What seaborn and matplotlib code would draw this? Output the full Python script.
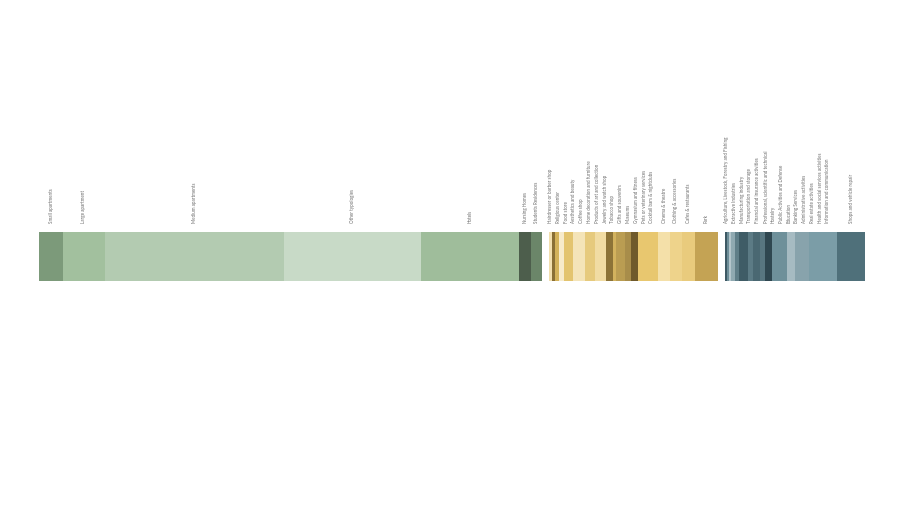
import numpy as np
import pandas as pd
import matplotlib
matplotlib.use("Agg")
import matplotlib.pyplot as plt
import seaborn as sns

# ---------------- data ----------------
residential_labels = ["Small apartments", "Large apartment", "Medium apartments", "Other typologies",
                      "Hotels", "Nursing Homes", "Students Residences"]
residential_values = [24, 42, 179, 137, 98, 12, 11]
residential_colors = ["#7C9A7A", "#A2C09E", "#B3CBB1", "#C8DAC7", "#9FBD9B", "#4D5E4C", "#6B8669"]

commerce_labels = ["Hairdresser or barber shop", "Religious center", "Food store", "Aesthetics and beauty",
                   "Coffee shop", "Home decoration and furniture", "Products of art and collection",
                   "Jewelry and watch shop", "Tobacco shop", "Gifts and souvenirs", "Museums",
                   "Gymnasium and fitness", "Pets or veterinary services", "Cocktail bars & nightclubs",
                   "Cinema & theatre", "Clothing & accessories", "Cafes & restaurants", "Park"]
commerce_values = [3, 3, 4, 5, 9, 12, 10, 11, 7, 3, 9, 6, 7, 20, 12, 12, 13, 23]
commerce_colors = ["#F2DFAE", "#8A6F35", "#D4B25A", "#F7EBCB", "#E3C46F", "#F4E4B8", "#E6CA7D",
                   "#F1DCA3", "#8C7337", "#D2B25E", "#BA9D52", "#A88D4A", "#6F5A2B", "#E8C76F",
                   "#F4E0A9", "#EED38B", "#E9CB7D", "#C4A354"]

services_labels = ["Agriculture, Livestock, Forestry and Fishing", "Extractive Industries",
                   "Manufacturing industry", "Transportation and storage",
                   "Financial and insurance activities", "Professional, scientific and technical",
                   "Hostelry", "Public Activities and Defense", "Education", "Banking Services",
                   "Administrative activities", "Real estate activities",
                   "Health and social services activities", "Information and communication",
                   "Shops and vehicle repair"]
services_values = [2, 2, 2, 4, 4, 9, 5, 7, 5, 7, 15, 8, 14, 28, 28]
services_colors = ["#3E5964", "#6E8E98", "#B4C6CC", "#8FA9B1", "#5F7E88", "#3F5C66", "#5C7B85",
                   "#4A6872", "#587680", "#2F4750", "#6E909A", "#A6BBC2", "#88A3AC", "#7B9DA7",
                   "#4F707A"]

groups = [(residential_labels, residential_values, residential_colors),
          (commerce_labels, commerce_values, commerce_colors),
          (services_labels, services_values, services_colors)]

GROUP_GAP = 7          # spacing between groups (layout)
MIN_LABEL_SEP = 7.8    # min label separation (layout)

# ---------------- build segments ----------------
rows = []
group_bounds = []
cursor = 0.0
for gi, (labs, vals, cols) in enumerate(groups):
    if gi > 0:
        rows.append(dict(key=f"gap{gi}", label="", start=cursor, end=cursor + GROUP_GAP, color="#FFFFFF"))
        cursor += GROUP_GAP
    gstart = cursor
    for lab, v, c in zip(labs, vals, cols):
        rows.append(dict(key=lab, label=lab, start=cursor, end=cursor + v, color=c))
        cursor += v
    group_bounds.append((gstart, cursor))
total = cursor

df = pd.DataFrame(rows)
df["row"] = "bar"
order = df.sort_values("end", ascending=False)["key"].tolist()
palette = dict(zip(df["key"], df["color"]))

sns.set_theme(style="white")
plt.rcParams["font.family"] = ["Lato", "DejaVu Sans"]

fig = plt.figure(figsize=(9, 5.06), dpi=100)
ax = fig.add_axes([39 / 900, (506 - 281.5) / 506, 826 / 900, 49 / 506])

sns.barplot(data=df, x="end", y="row", hue="key", hue_order=order, palette=palette,
            dodge=False, width=1, saturation=1, errorbar=None, legend=False,
            linewidth=0, edgecolor="none", ax=ax)
ax.set_xlim(0, total)
ax.set_ylim(0.5, -0.5)
ax.set_axis_off()


def spread(centers, lo, hi, d):
    pos = np.array(centers, dtype=float)
    for _ in range(2000):
        moved = False
        for i in range(len(pos) - 1):
            g = pos[i + 1] - pos[i]
            if g < d - 1e-6:
                s = (d - g) / 2
                pos[i] -= s
                pos[i + 1] += s
                moved = True
        pos = np.clip(pos, lo, hi)
        if not moved:
            break
    return pos


for (labs, vals, cols), (g0, g1) in zip(groups, group_bounds):
    seg = df[df["label"].isin(labs)]
    centers = ((seg["start"] + seg["end"]) / 2).to_numpy()
    pos = spread(centers, g0 + 1.5, g1 - 1.5, MIN_LABEL_SEP)
    for lab, x in zip(seg["label"], pos):
        ax.annotate(lab, xy=(x, -0.5), xytext=(0, 6.5), textcoords="offset points",
                    rotation=90, ha="center", va="bottom", fontsize=3.25,
                    color="#6A6A6A", annotation_clip=False)

fig.savefig("out.png", dpi=100, facecolor="white")
